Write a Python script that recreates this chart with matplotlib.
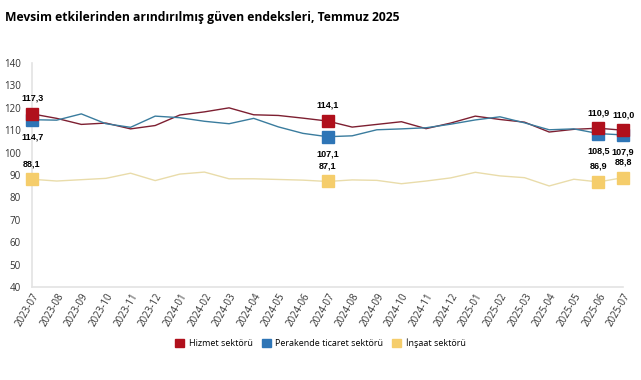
import matplotlib.pyplot as plt
from matplotlib.patches import Patch

plt.rcParams['font.family'] = ['Open Sans', 'DejaVu Sans']

# Months 2023-07 .. 2025-07
months = ['2023-07', '2023-08', '2023-09', '2023-10', '2023-11', '2023-12',
          '2024-01', '2024-02', '2024-03', '2024-04', '2024-05', '2024-06',
          '2024-07', '2024-08', '2024-09', '2024-10', '2024-11', '2024-12',
          '2025-01', '2025-02', '2025-03', '2025-04', '2025-05', '2025-06',
          '2025-07']

hizmet = [117.3, 115.3, 112.6, 113.2, 110.6, 112.1, 116.8, 118.2, 120.0,
          116.9, 116.6, 115.4, 114.1, 111.4, 112.6, 113.8, 110.7, 113.2,
          116.3, 114.8, 113.6, 109.2, 110.4, 110.9, 110.0]
perakende = [114.7, 114.5, 117.3, 112.9, 111.3, 116.3, 115.6, 114.0, 112.9,
             115.3, 111.5, 108.6, 107.1, 107.5, 110.2, 110.6, 111.1, 112.7,
             114.6, 116.0, 113.3, 110.2, 110.6, 108.5, 107.9]
insaat = [88.1, 87.3, 87.9, 88.5, 90.8, 87.5, 90.4, 91.3, 88.3, 88.3, 88.0,
          87.7, 87.1, 87.8, 87.6, 86.1, 87.3, 88.7, 91.2, 89.6, 88.8, 85.1,
          88.1, 86.9, 88.8]

# points that get a square marker and a value label
marked = [0, 12, 23, 24]

series = [
    ('Hizmet sektörü', hizmet, '#7d1f31', '#b0101c', 6),
    ('Perakende ticaret sektörü', perakende, '#3a7c9e', '#2e75b6', 5),
    ('İnşaat sektörü', insaat, '#e9dcaa', '#f5cd6b', 4),
]

fig = plt.figure(figsize=(6.41, 3.80), dpi=100)
ax = fig.add_axes([0.05, 0.245, 0.922, 0.589])

x = list(range(len(months)))
for name, vals, lc, mc, z in series:
    ax.plot(x, vals, color=lc, lw=1.0, zorder=2, clip_on=False)
    ax.plot([x[i] for i in marked], [vals[i] for i in marked], ls='none',
            marker='s', ms=8, color=mc, zorder=z, clip_on=False)


def lab(v):
    return f"{v:.1f}".replace('.', ',')


# value labels
for i in marked:
    kw = dict(textcoords='offset points', ha='center', fontsize=6.5,
              fontweight='bold', family='Liberation Sans')
    ax.annotate(lab(hizmet[i]), (i, hizmet[i]), xytext=(0, 8), va='bottom', **kw)
    ax.annotate(lab(perakende[i]), (i, perakende[i]), xytext=(0, -9), va='top', **kw)
    ax.annotate(lab(insaat[i]), (i, insaat[i]), xytext=(0, 8), va='bottom', **kw)

ax.set_xlim(0, len(months) - 1)
ax.set_ylim(40, 140)
ax.set_yticks(range(40, 141, 10))
ax.set_xticks(x)
ax.set_xticklabels(months, rotation=60, ha='right', rotation_mode='anchor')
ax.tick_params(axis='both', length=0, labelsize=7, colors='#333333')
ax.tick_params(axis='y', pad=8)

for side in ['top', 'right']:
    ax.spines[side].set_visible(False)
for side in ['left', 'bottom']:
    ax.spines[side].set_color('#e3e3e3')
    ax.spines[side].set_linewidth(1.2)

fig.text(0.008, 0.955, 'Mevsim etkilerinden arındırılmış güven endeksleri, Temmuz 2025',
         fontsize=8.7, fontweight='bold', ha='left', va='center')

handles = [Patch(color=mc, label=name) for name, _, _, mc, _ in series]
fig.legend(handles=handles, loc='center', bbox_to_anchor=(0.5, 0.097),
           ncol=3, frameon=False, fontsize=6.5, handlelength=1.0,
           handleheight=1.0, handletextpad=0.5, columnspacing=1.0)

fig.savefig('out.png', dpi=100, facecolor='white')
